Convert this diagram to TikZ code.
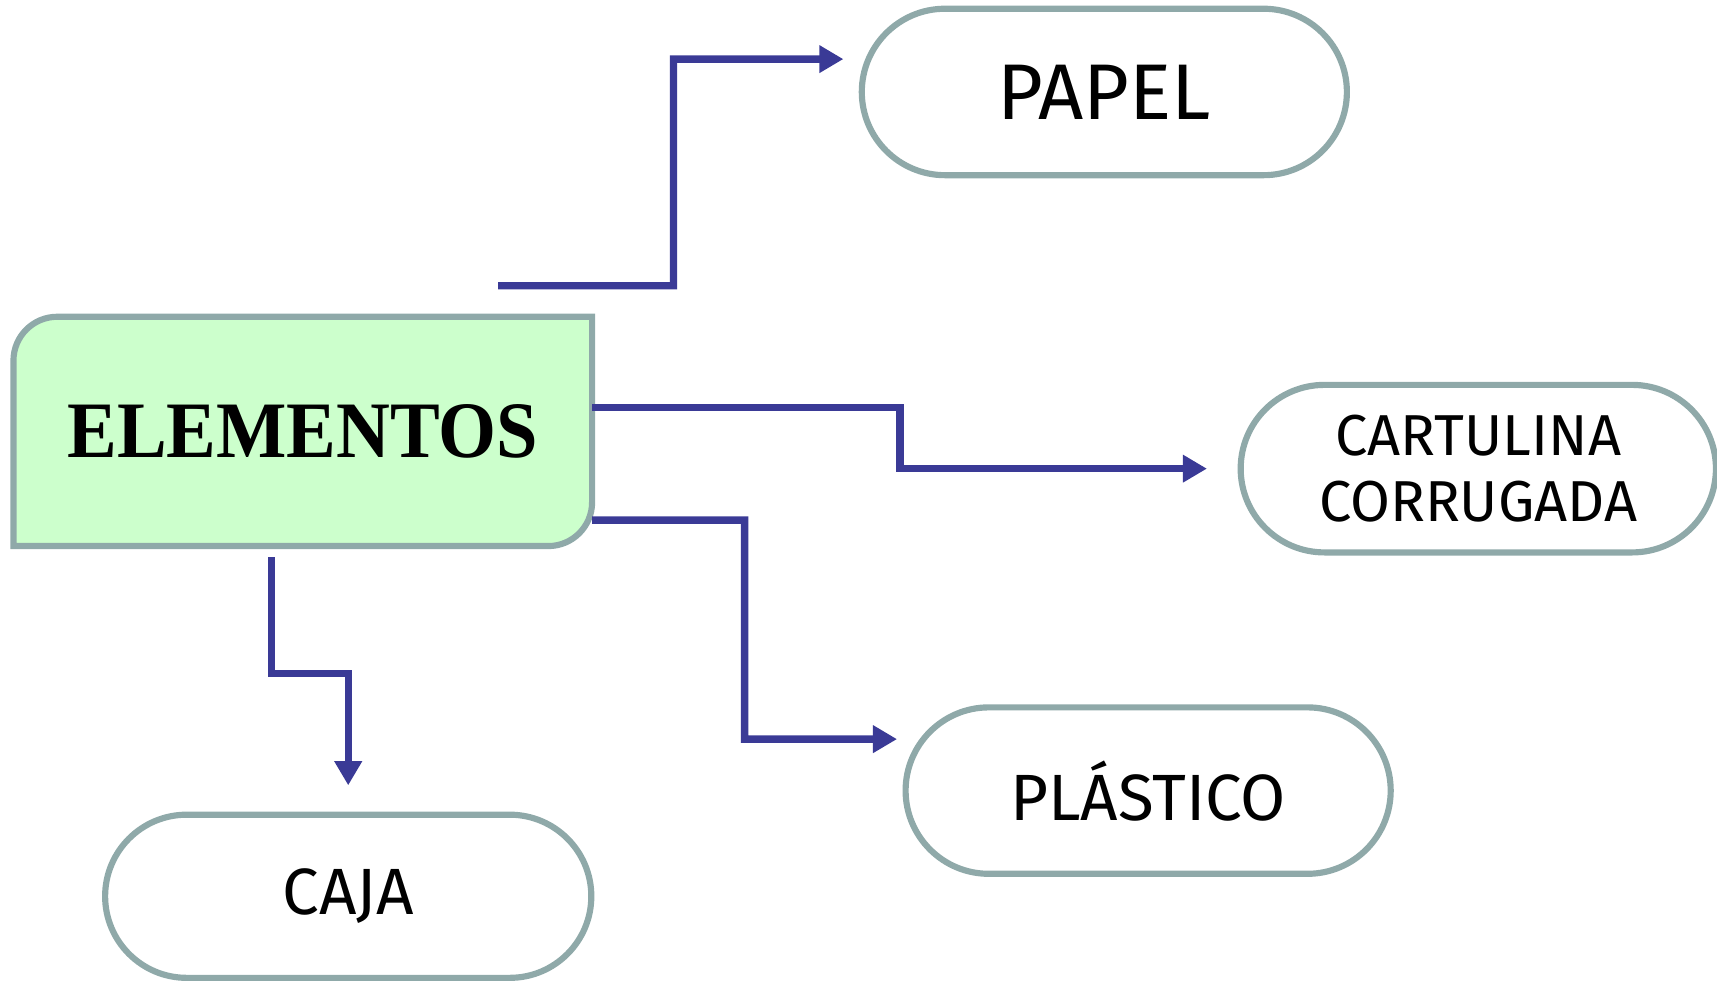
\documentclass[tikz,border=0pt]{standalone}
\usepackage{fontspec}
\setmainfont{Liberation Serif}
\setsansfont{Fira Sans}
\usepackage{tikz}
\usetikzlibrary{shapes, shapes.misc, arrows.meta, backgrounds}
\definecolor{edgegray}{HTML}{8FA9A9}
\definecolor{linkblue}{HTML}{3A3A96}
\definecolor{boxgreen}{HTML}{CCFFCC}
\tikzset{
  pill/.style={rounded rectangle, draw=edgegray, line width=1.6pt, fill=white,
    minimum width=4.43cm, minimum height=1.52cm, align=center, inner sep=0pt},
  link/.style={draw=linkblue, line width=1.9pt, -{Triangle[length=2.2mm,width=2.4mm]}},
}

\begin{document}
\begin{tikzpicture}
\useasboundingbox (0,0) rectangle (15.68,8.96);
% main box
\node[minimum width=5.27cm, minimum height=2.08cm, inner sep=0pt] (elem) at (2.765,5.02)
  {\scalebox{0.968}[1.04]{\fontsize{20}{24}\selectfont\bfseries ELEMENTOS}};
\begin{scope}[on background layer]
\filldraw[fill=boxgreen, draw=edgegray, line width=1.6pt]
  (elem.south west) -- ([yshift=-4mm]elem.north west) arc (180:90:4mm)
  -- (elem.north east) -- ([yshift=4mm]elem.south east) arc (0:-90:4mm) -- cycle;
\end{scope}
% targets
\node[pill, font=\sffamily\fontsize{20.5}{24}\selectfont] (papel) at (10.085,8.12) {PAPEL};
\node[pill, minimum width=4.34cm, minimum height=1.53cm,
  font=\sffamily\fontsize{15}{17}\selectfont] (cart) at (13.50,4.68) {CARTULINA\\ CORRUGADA};
\node[pill, font=\sffamily\fontsize{17}{20}\selectfont] (plast) at (10.485,1.74) {PLÁSTICO};
\node[pill, minimum width=4.44cm, minimum height=1.49cm,
  font=\sffamily\fontsize{17}{20}\selectfont] (caja) at (3.18,0.775) {CAJA};
% connectors
\coordinate (pstart) at (4.55,6.35);
\coordinate (pbend) at (6.15,8.42);
\draw[link] (pstart) -| (pbend) -- ([xshift=-1.4mm,yshift=3mm]papel.west);
\coordinate (cbend) at (8.22,4.68);
\draw[link] ([yshift=2.2mm]elem.east) -| (cbend) -- ([xshift=-2.8mm]cart.west);
\coordinate (lbend) at (6.80,2.21);
\draw[link] ([yshift=-8.1mm]elem.east) -| (lbend) -- ([xshift=-0.5mm,yshift=4.7mm]plast.west);
\coordinate (kstart) at (2.48,3.87);
\coordinate (kbend) at (3.18,2.81);
\draw[link] (kstart) |- (kbend) -- ([yshift=2.4mm]caja.north);
\end{tikzpicture}
\end{document}
